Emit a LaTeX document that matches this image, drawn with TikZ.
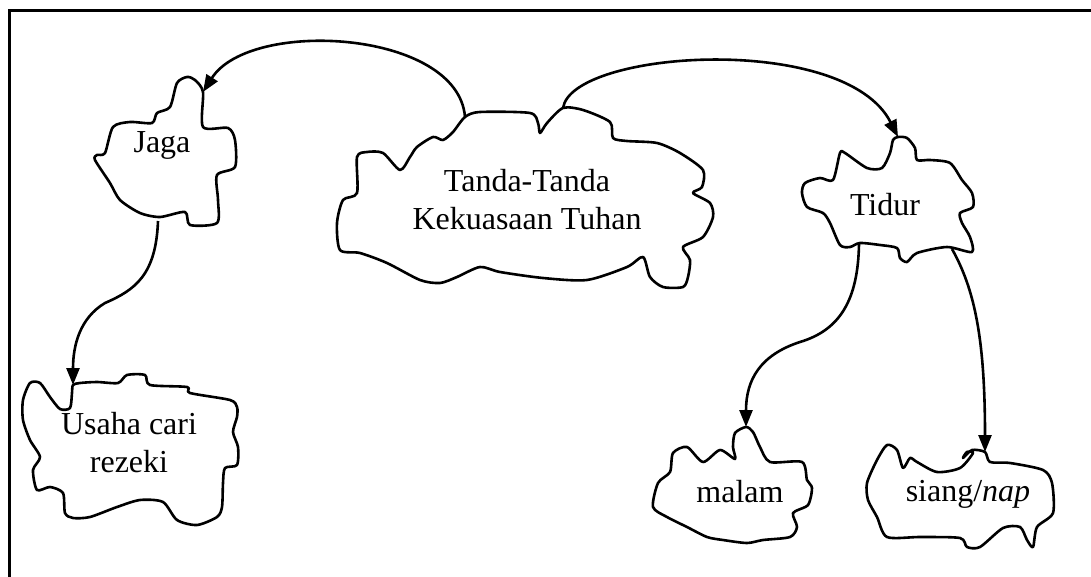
\documentclass[tikz,border=0pt]{standalone}
\usepackage{fontspec}
\setmainfont{Liberation Serif}
\usetikzlibrary{arrows.meta}
\tikzset{
  cloudline/.style={draw=black, line width=2.6pt, line join=round},
  link/.style={draw=black, line width=2.6pt, -{Triangle[length=17pt,width=13pt]}},
  label/.style={inner sep=0pt, align=center, font=\fontsize{32}{38}\selectfont}
}
\begin{document}
\begin{tikzpicture}[x=1pt, y=-1pt]
\useasboundingbox (0,0) rectangle (1091,577);
% frame
\draw[line width=3pt] (9,577) -- (9,11) -- (1091,11);

% clouds
\draw[cloudline] plot[smooth cycle, tension=0.45] coordinates {
  (203,92) (203,127) (228,128) (235,140) (235,167) (217,175) (218,200)
  (217,223) (190,225) (185,212) (160,217) (140,213) (120,200) (110,183)
  (95,160) (97,155) (105,153) (113,127) (130,122) (152,123) (157,113)
  (170,107) (177,83) (187,77) (195,80)};

\draw[cloudline] plot[smooth cycle, tension=0.45] coordinates {
  (73,385) (72,393) (70,408) (60,409) (50,397) (40,383) (30,383) (23,400)
  (23,420) (30,440) (40,457) (33,470) (37,490) (50,487) (63,493) (65,513)
  (73,518) (90,517) (117,507) (140,500) (163,502) (177,520) (197,525)
  (217,517) (222,507) (223,483) (225,468) (237,465) (238,447) (233,432)
  (237,417) (237,407) (230,400) (190,393) (187,387) (150,385) (145,375)
  (127,375) (118,383) (97,382) (80,383)};

\draw[cloudline] plot[smooth cycle, tension=0.45] coordinates {
  (465,117) (480,112) (530,113) (538,123) (540,133) (547,123) (563,108)
  (583,110) (610,122) (613,138) (627,141) (657,143) (680,153) (703,170)
  (702,187) (693,193) (710,203) (713,217) (703,237) (683,247) (690,260)
  (688,277) (683,287) (663,287) (650,277) (643,257) (627,267) (587,280)
  (543,278) (500,272) (480,267) (457,277) (440,283) (420,280) (387,263)
  (360,253) (340,250) (337,223) (343,200) (357,193) (357,157) (367,152)
  (383,153) (400,170) (410,157) (417,147) (433,137) (443,140) (453,132)};

\draw[cloudline] plot[smooth cycle, tension=0.45] coordinates {
  (898,137) (907,138) (915,148) (917,160) (930,160) (950,163) (962,180)
  (972,193) (973,207) (960,213) (962,223) (970,237) (972,252) (947,247)
  (917,253) (907,262) (900,258) (897,248) (880,245) (860,243) (850,247)
  (840,245) (830,223) (823,213) (807,207) (802,193) (805,183) (820,178)
  (833,180) (840,153) (845,153) (867,168) (882,168) (890,153) (893,140)};

\draw[cloudline] plot[smooth cycle, tension=0.45] coordinates {
  (746,427) (735,433) (733,447) (735,459) (720,450) (703,462) (687,447)
  (673,453) (670,472) (658,483) (653,507) (667,517) (687,527) (707,537)
  (723,540) (747,543) (763,540) (790,537) (797,527) (793,513) (808,505)
  (812,488) (807,480) (802,462) (770,462) (760,447) (753,432)};

\draw[cloudline] plot[smooth cycle, tension=0.45] coordinates {
  (985,452) (990,462) (1010,463) (1043,470) (1052,483) (1053,513)
  (1037,527) (1033,547) (1027,540) (1020,527) (1003,528) (980,547)
  (967,547) (960,538) (920,537) (887,537) (877,517) (868,500) (867,483)
  (877,460) (887,445) (897,450) (903,468) (910,458) (917,462) (937,472)
  (960,468) (973,453) (967,452) (963,458) (972,450)};

% labels
\node[label] (tanda) at (527,200) {Tanda-Tanda\\Kekuasaan Tuhan};
\node[label, anchor=base] (jaga) at (162,153) {Jaga};
\node[label, anchor=base] (tidur) at (885,215) {Tidur};
\node[label] (usaha) at (129,443) {Usaha cari\\rezeki};
\node[label, anchor=base] (malam) at (740,502) {malam};
\node[label, anchor=base] (siang) at (968,501) {siang/\textit{nap}};

% connector end points on the cloud outlines
\coordinate (tandaL) at (465,117);
\coordinate (tandaR) at (563,108);
\coordinate (jagaTop) at (203,92);
\coordinate (jagaBot) at (158,221);
\coordinate (usahaTop) at (73,385);
\coordinate (tidurTop) at (898,137);
\coordinate (tidurBL) at (859,244);
\coordinate (tidurBR) at (952,249);
\coordinate (malamTop) at (746,427);
\coordinate (siangTop) at (985,452);

% connectors
\draw[link] (tandaL) .. controls (458,30) and (250,18) .. (jagaTop);
\draw[link] (tandaR) .. controls (572,50) and (845,32) .. (tidurTop);
\draw[link] (jagaBot) .. controls (156,275) and (135,290) .. (105,303)
  .. controls (80,318) and (73,345) .. (usahaTop);
\draw[link] (tidurBL) .. controls (858,300) and (840,330) .. (800,342)
  .. controls (760,355) and (746,380) .. (malamTop);
\draw[link] (tidurBR) .. controls (975,290) and (985,340) .. (siangTop);
\end{tikzpicture}
\end{document}
